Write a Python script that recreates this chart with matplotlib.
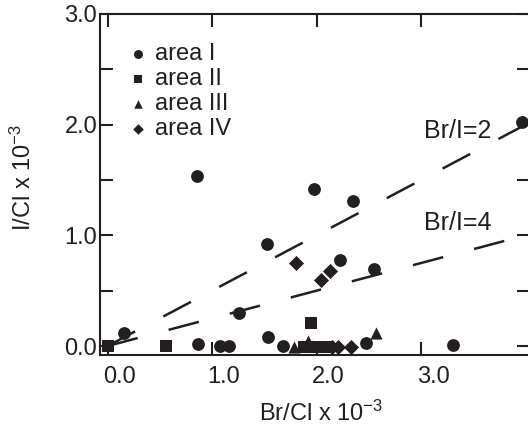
import numpy as np
import matplotlib
matplotlib.use('Agg')
import matplotlib.pyplot as plt
from matplotlib.transforms import ScaledTranslation

plt.rcParams['font.family'] = ['Liberation Sans', 'DejaVu Sans']
plt.rcParams['mathtext.fontset'] = 'custom'
plt.rcParams['mathtext.rm'] = 'Liberation Sans'
plt.rcParams['mathtext.default'] = 'regular'
plt.rcParams['lines.scale_dashes'] = False

ink = '#231f20'

# area I .. IV (Br/Cl, I/Cl, both x 10^-3)
area1_x = [0.16, 0.87, 1.08, 1.16, 1.26, 1.54, 1.53, 0.86, 1.98, 2.35, 3.97, 2.22, 2.55, 2.47, 3.31, 1.68]
area1_y = [0.12, 0.02, 0.0, 0.0, 0.30, 0.08, 0.92, 1.54, 1.42, 1.31, 2.02, 0.78, 0.70, 0.03, 0.01, 0.0]
area2_x = [0.0, 0.56, 1.95, 1.88, 1.94, 2.00, 2.06, 2.11]
area2_y = [0.0, 0.0, 0.21, -0.01, -0.01, -0.01, -0.01, -0.01]
area3_x = [1.78, 1.92, 1.96, 2.57]
area3_y = [-0.01, 0.05, 0.0, 0.12]
area4_x = [1.80, 2.04, 2.13, 2.15, 2.21, 2.33]
area4_y = [0.75, 0.60, 0.68, -0.01, -0.01, -0.01]

ratios = [2, 4]
ratio_labels = ['Br/I=2', 'Br/I=4']
label_pos = [(3.35, 1.94), (3.35, 1.11)]

fig = plt.figure(figsize=(5.28, 4.28), dpi=100)
ax = fig.add_axes([100/528, 73/428, 430/528, 341/428])

xx = np.array([0.0, 4.2])
for r, lab, (tx, ty) in zip(ratios, ratio_labels, label_pos):
    ax.plot(xx, xx / r, color=ink, lw=1.8, dashes=(22.5, 23))
    ax.text(tx, ty, lab, fontsize=18, color=ink, ha='center', va='center')

ms = 85
ax.scatter(area1_x, area1_y, s=ms, marker='o', color=ink, lw=0, clip_on=False, zorder=3, label='area I')
ax.scatter(area2_x, area2_y, s=ms*0.85, marker='s', color=ink, lw=0, clip_on=False, zorder=3, label='area II')
ax.scatter(area3_x, area3_y, s=ms*0.9, marker='^', color=ink, lw=0, clip_on=False, zorder=3, label='area III')
ax.scatter(area4_x, area4_y, s=ms*0.7, marker='D', color=ink, lw=0, clip_on=False, zorder=3, label='area IV')

ax.set_xlim(-0.072, 4.043)
ax.set_ylim(-0.081, 3.0)

ax.set_xticks([0, 1, 2, 3])
ax.set_xticklabels(['0.0', '1.0', '2.0', '3.0'])
ax.set_yticks([0, 1, 2, 3])
ax.set_yticklabels(['0.0', '1.0', '2.0', '3.0'])
ax.set_yticks([0.5, 1.5, 2.5], minor=True)

ax.tick_params(which='both', direction='in', length=9.4, width=1.5, color=ink,
               top=True, right=True, labelsize=17, labelcolor=ink)
ax.tick_params(axis='x', pad=8)
ax.tick_params(axis='y', pad=2)
for lbl in ax.get_xticklabels():
    lbl.set_transform(lbl.get_transform() + ScaledTranslation(0.12, 0, fig.dpi_scale_trans))

for s in ax.spines.values():
    s.set_linewidth(1.5)
    s.set_color(ink)

ax.set_xlabel('Br/Cl x 10$^{-3}$', fontsize=17, color=ink, labelpad=11)
ax.xaxis.set_label_coords(0.515, -0.135)
ax.xaxis.label.set_va('top')
ax.set_ylabel('I/Cl x 10$^{-3}$', fontsize=17, color=ink)
ax.yaxis.set_label_coords(-0.149, 0.52)

ax.legend(loc='upper left', bbox_to_anchor=(0.072, 0.915), frameon=False, fontsize=17,
          borderpad=0, borderaxespad=0, handlelength=0.6, handletextpad=0.4,
          labelspacing=0.13, markerscale=0.7, labelcolor=ink)

fig.savefig('out.png', dpi=100)
